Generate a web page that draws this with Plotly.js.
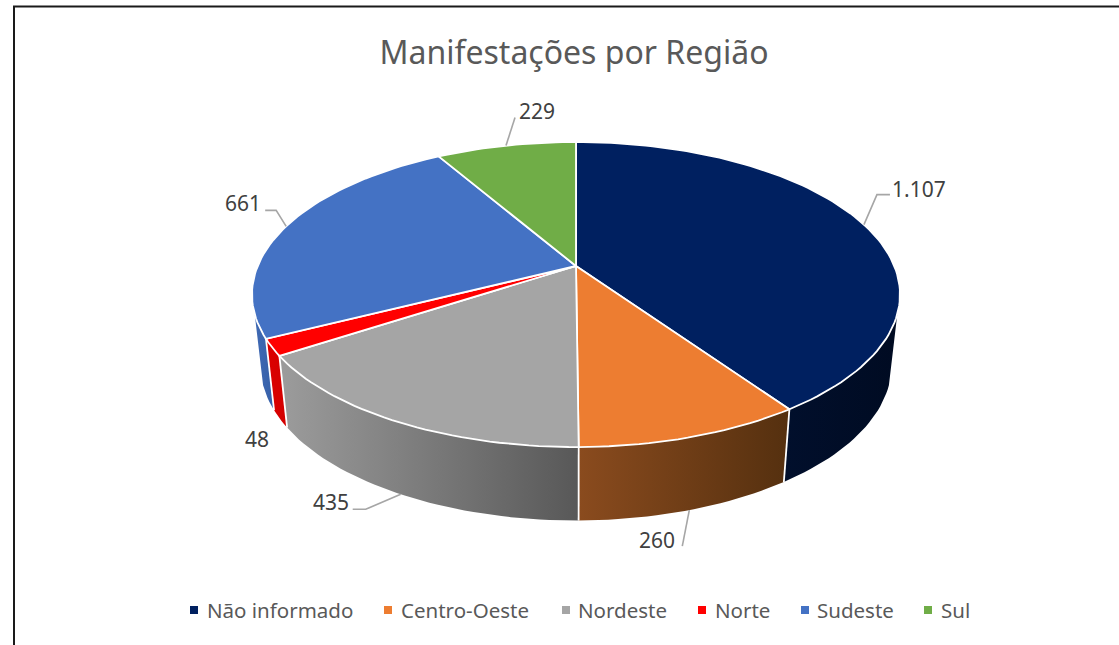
<!DOCTYPE html>
<html lang="pt-BR">
<head>
<meta charset="utf-8">
<script src="https://cdn.plot.ly/plotly-3.0.1.min.js"></script>
<style>html,body{margin:0;padding:0;background:#fff}#chart{width:1119px;height:645px}</style>
</head>
<body>
<div id="chart"></div>
<script>
const categories = ['Não informado', 'Centro-Oeste', 'Nordeste', 'Norte', 'Sudeste', 'Sul'];
const values = [1107, 260, 435, 48, 661, 229];
const topColors = ['#002060', '#ED7D31', '#A5A5A5', '#FF0000', '#4472C4', '#70AD47'];
const wallLeft = ['#010f2c', '#8a4b1e', '#9c9c9c', '#dd0000', '#3f69b4', '#70AD47'];
const wallRight = ['#000b22', '#55300f', '#585858', '#d20000', '#3660a8', '#70AD47'];

/* perspective projection of the pie, fitted to the picture */
const FONT = '"Noto Sans", "Open Sans", sans-serif';
const K = 0.187;
const TOP = {cx: 576, cy: 266, a: 318.3, b: 147.2};
const LOW = {cx: 576, cy: 336, a: 310, b: 150};
const WALL_FROM = 108, WALL_TO = 252;

function project(ring, deg) {
  const t = deg * Math.PI / 180, X = Math.sin(t), Y = Math.cos(t), w = 1 + K * Y;
  return [ring.cx + ring.a * X / w, ring.cy - ring.b * Y / w];
}
function arc(ring, from, to) {
  const n = Math.max(2, Math.ceil(Math.abs(to - from) / 1.5)), pts = [];
  for (let i = 0; i <= n; i++) pts.push(project(ring, from + (to - from) * i / n));
  return pts;
}
const total = values.reduce((s, v) => s + v, 0);
const starts = [], ends = [];
values.reduce((acc, v, i) => { starts[i] = acc / total * 360; ends[i] = (acc + v) / total * 360; return acc + v; }, 0);
const mids = starts.map((s, i) => (s + ends[i]) / 2);
const fmt = v => String(v).replace(/\B(?=(\d{3})+$)/g, '.');

const traces = [];
function poly(pts, extra) {
  traces.push(Object.assign({
    type: 'scatter', mode: 'lines', x: pts.map(p => p[0]), y: pts.map(p => p[1]),
    fill: 'toself', hoverinfo: 'skip', showlegend: false
  }, extra));
}
/* side walls */
values.forEach((v, i) => {
  const a = Math.max(starts[i], WALL_FROM), b = Math.min(ends[i], WALL_TO);
  if (b <= a) return;
  const pts = arc(TOP, a, b).concat(arc(LOW, b, a));
  pts.push(pts[0]);
  poly(pts, {
    line: {color: 'rgba(0,0,0,0)', width: 0},
    fillcolor: wallLeft[i],
    fillgradient: {type: 'horizontal', colorscale: [[0, wallLeft[i]], [1, wallRight[i]]]}
  });
});
/* white dividers between the walls */
values.forEach((v, i) => {
  if (ends[i] <= WALL_FROM || ends[i] >= WALL_TO) return;
  const p = project(TOP, ends[i]), q = project(LOW, ends[i]);
  traces.push({type: 'scatter', mode: 'lines', x: [p[0], q[0]], y: [p[1], q[1]],
    line: {color: '#ffffff', width: 1.8}, hoverinfo: 'skip', showlegend: false});
});
/* top faces */
values.forEach((v, i) => {
  const pts = [[TOP.cx, TOP.cy]].concat(arc(TOP, starts[i], ends[i]));
  pts.push([TOP.cx, TOP.cy]);
  poly(pts, {
    name: categories[i], fillcolor: topColors[i],
    line: {color: '#ffffff', width: 1.8}
  });
});

/* leader lines: elbow offsets from the rim point at each slice's mid angle */
const leaderRing = [TOP, LOW, LOW, null, TOP, TOP];
const leaderPath = [
  [[13, -30], [26, -30]],
  [[-7, 36]],
  [[-35, 15], [-48, 15]],
  null,
  [[-10, -16], [-21, -16]],
  [[9, -28]]
];
values.forEach((v, i) => {
  if (!leaderPath[i]) return;
  const p = project(leaderRing[i], mids[i]);
  const pts = [p].concat(leaderPath[i].map(d => [p[0] + d[0], p[1] + d[1]]));
  traces.push({type: 'scatter', mode: 'lines', x: pts.map(q => q[0]), y: pts.map(q => q[1]),
    line: {color: '#A6A6A6', width: 1.6}, hoverinfo: 'skip', showlegend: false});
});

/* value labels */
const labelX = [890, 637, 311, 243, 223, 517];
const labelY = [189, 540, 502, 439, 203, 111];
const annotations = values.map((v, i) => ({
  xref: 'x', yref: 'y', x: labelX[i], y: labelY[i], xanchor: 'left', yanchor: 'middle',
  text: fmt(v), showarrow: false, font: {family: FONT, size: 21, color: '#404040'}
}));

/* legend */
const keyX = [194, 388, 566, 702, 805, 928];
const textX = [205, 399, 576, 713, 815, 939];
const LEG_Y = 610;
categories.forEach((c, i) => {
  traces.push({type: 'scatter', mode: 'markers', x: [keyX[i]], y: [LEG_Y], name: c,
    marker: {symbol: 'square', size: 8, color: topColors[i]}, hoverinfo: 'skip', showlegend: false});
  annotations.push({xref: 'x', yref: 'y', x: textX[i], y: LEG_Y, xanchor: 'left', yanchor: 'middle',
    text: c, showarrow: false, font: {family: FONT, size: 20.5, color: '#595959'}});
});

const layout = {
  width: 1119, height: 645, margin: {l: 0, r: 0, t: 0, b: 0},
  paper_bgcolor: '#ffffff', plot_bgcolor: '#ffffff', showlegend: false,
  title: {text: 'Manifestações por Região', font: {family: FONT, size: 32, color: '#595959'},
          x: 574 / 1119, xanchor: 'center', xref: 'paper', y: 1 - 53 / 645, yanchor: 'middle', yref: 'paper'},
  xaxis: {range: [0, 1119], visible: false, fixedrange: true},
  yaxis: {range: [645, 0], visible: false, fixedrange: true},
  annotations: annotations,
  shapes: [
    {type: 'line', xref: 'x', yref: 'y', x0: 14, x1: 14, y0: 6, y1: 645, line: {color: '#1a1a1a', width: 2}},
    {type: 'line', xref: 'x', yref: 'y', x0: 13, x1: 1119, y0: 6.5, y1: 6.5, line: {color: '#1a1a1a', width: 2}}
  ]
};
Plotly.newPlot('chart', traces, layout, {displayModeBar: false, staticPlot: true});
</script>
</body>
</html>
